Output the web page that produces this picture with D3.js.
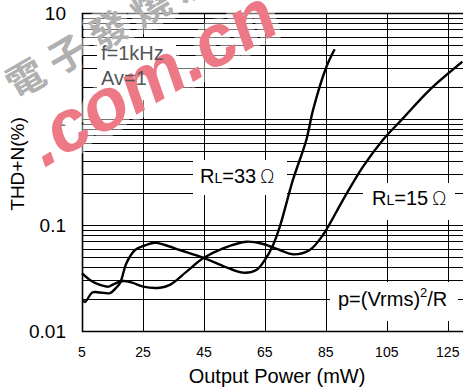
<!DOCTYPE html>
<html>
<head>
<meta charset="utf-8">
<script src="https://cdn.jsdelivr.net/npm/d3@7"></script>
<style>
  body { margin: 0; background: #fff; }
  svg { display: block; font-family: "Liberation Sans", Arial, sans-serif; }
</style>
</head>
<body>
<svg id="chart" width="463" height="390"></svg>
<script>
// ---- data ----
const xTicks = [5, 25, 45, 65, 85, 105, 125];
const yTicks = [0.01, 0.1, 1, 10];
const yTickLabels = ["0.01", "0.1", "1", "10"];

const rl33Power = [5.3, 6.0, 8.4, 10.9, 14.2, 16.1, 17.5, 19.6, 22.4, 25.1, 28.9, 32.2, 37.1, 44.7, 51.3, 57.8, 62.2, 65.0, 67.7, 69.9, 74.2, 78.6, 80.8, 85.2, 87.9];
const rl33Thd   = [0.0196, 0.0188, 0.0231, 0.0231, 0.0228, 0.0254, 0.0284, 0.0438, 0.0581, 0.0634, 0.0681, 0.0648, 0.0581, 0.0491, 0.0410, 0.0355, 0.0376, 0.0468, 0.0648, 0.0964, 0.266, 0.634, 1.216, 3.11, 4.55];

const rl15Power = [5, 7.6, 10.9, 13.6, 15.25, 18.5, 21.7, 25.1, 30.55, 33.8, 39.3, 44.7, 51.3, 59.0, 64.4, 69.9, 74.2, 79.7, 84.05, 90.6, 97.2, 103.7, 110.3, 119.0, 129.8];
const rl15Thd   = [0.0352, 0.0303, 0.0272, 0.0262, 0.0276, 0.0296, 0.0284, 0.0262, 0.0256, 0.0272, 0.0363, 0.0485, 0.0603, 0.0696, 0.0662, 0.0581, 0.0529, 0.0581, 0.0805, 0.172, 0.355, 0.634, 1.015, 1.877, 3.47];

// ---- layout ----
const plotL = 82, plotR = 463, plotT = 13, plotB = 331;

const svg = d3.select("#chart");

const x = d3.scaleLinear().domain([5, 130]).range([plotL, plotR]);
const y = d3.scaleLog().domain([0.01, 10]).range([plotB, plotT]);

// ---- grid ----
const grid = svg.append("g").attr("stroke", "#000").attr("stroke-width", 1).attr("shape-rendering", "crispEdges");

const minor = [];
[0.01, 0.1, 1].forEach(d => { for (let k = 2; k <= 9; k++) minor.push(d * k); });

grid.selectAll(".hminor").data(minor.concat(yTicks)).enter().append("line")
  .attr("x1", plotL).attr("x2", plotR)
  .attr("y1", d => Math.round(y(d)) + 0.5).attr("y2", d => Math.round(y(d)) + 0.5);

grid.selectAll(".vgrid").data(xTicks.slice(1)).enter().append("line")
  .attr("y1", plotT).attr("y2", plotB)
  .attr("x1", d => Math.round(x(d)) + 0.5).attr("x2", d => Math.round(x(d)) + 0.5);

// frame
svg.append("path")
  .attr("d", `M${plotR},${plotT + 0.5}H${plotL + 0.5}V${plotB + 0.5}H${plotR}`)
  .attr("fill", "none").attr("stroke", "#000").attr("stroke-width", 1.6);

// ---- label boxes (white, mask grid) ----
const boxes = [
  [97, 38, 79, 62],
  [193, 160, 94, 35],
  [363, 183, 92, 37],
  [330, 282, 128, 39]
];
svg.selectAll(".box").data(boxes).enter().append("rect")
  .attr("x", d => d[0]).attr("y", d => d[1]).attr("width", d => d[2]).attr("height", d => d[3])
  .attr("fill", "#fff");

// ---- curves ----
const line = d3.line()
  .x(d => x(d[0])).y(d => y(d[1]))
  .curve(d3.curveCatmullRom.alpha(0.5));

[[rl33Power, rl33Thd], [rl15Power, rl15Thd]].forEach(s => {
  svg.append("path")
    .datum(d3.zip(s[0], s[1]))
    .attr("d", line)
    .attr("fill", "none").attr("stroke", "#000").attr("stroke-width", 2.4)
    .attr("stroke-linejoin", "round");
});

// ---- axes text ----
svg.selectAll(".yt").data(yTicks).enter().append("text")
  .attr("x", 66).attr("y", d => y(d)).attr("dy", "0.35em")
  .attr("text-anchor", "end").attr("font-size", 19)
  .text((d, i) => yTickLabels[i]);

svg.selectAll(".xt").data(xTicks).enter().append("text")
  .attr("x", d => x(d)).attr("y", 357)
  .attr("text-anchor", "middle").attr("font-size", 14)
  .text(d => d);

svg.append("text")
  .attr("x", 277).attr("y", 383).attr("text-anchor", "middle").attr("font-size", 20)
  .text("Output Power (mW)");

svg.append("text")
  .attr("transform", "translate(24,164) rotate(-90)")
  .attr("text-anchor", "middle").attr("font-size", 19)
  .text("THD+N(%)");

// ---- annotations ----
function rlLabel(px, py, val) {
  const t = svg.append("text").attr("x", px).attr("y", py).attr("font-size", 20);
  t.append("tspan").text("R");
  t.append("tspan").attr("font-size", 14).text("L");
  t.append("tspan").text("=" + val);
  t.append("tspan").attr("font-family", "DejaVu Sans").attr("font-weight", 200).attr("font-size", 19).text("\u2009\u03A9");
}
rlLabel(200, 183, "33");
rlLabel(372, 205, "15");

const p = svg.append("text").attr("x", 338).attr("y", 306).attr("font-size", 20);
p.append("tspan").text("p=(Vrms)");
p.append("tspan").attr("font-size", 13).attr("dy", -9).text("2");
p.append("tspan").attr("dy", 9).text("/R");

// ---- watermark (soft white halo lightens what is under it) ----
const wm = svg.append("g");

function mark(txt, tr, size, fill, extra) {
  const halo = wm.append("text").attr("transform", tr).attr("font-size", size)
    .attr("fill", "none").attr("stroke", "#fff").attr("stroke-width", 12)
    .attr("stroke-linejoin", "round").attr("opacity", 0.45).text(txt);
  const t = wm.append("text").attr("transform", tr).attr("font-size", size)
    .attr("fill", fill).text(txt);
  [halo, t].forEach(e => extra(e));
}

mark("電子發燒友", "translate(16,100) rotate(-30)", 38, "#b0b0b0", e =>
  e.attr("font-family", "Noto Sans CJK TC").attr("font-weight", "bold").attr("letter-spacing", 10));

mark(".com.cn", "translate(44,168) rotate(-30)", 73, "#ec7985", e =>
  e.attr("font-weight", "bold").attr("font-style", "italic"));

// condition notes sit over the watermark, in grey
svg.append("text").attr("x", 101).attr("y", 60).attr("font-size", 20).attr("fill", "#555").text("f=1kHz");
svg.append("text").attr("x", 101).attr("y", 85).attr("font-size", 20).attr("fill", "#555").text("Av=1");
</script>
</body>
</html>
